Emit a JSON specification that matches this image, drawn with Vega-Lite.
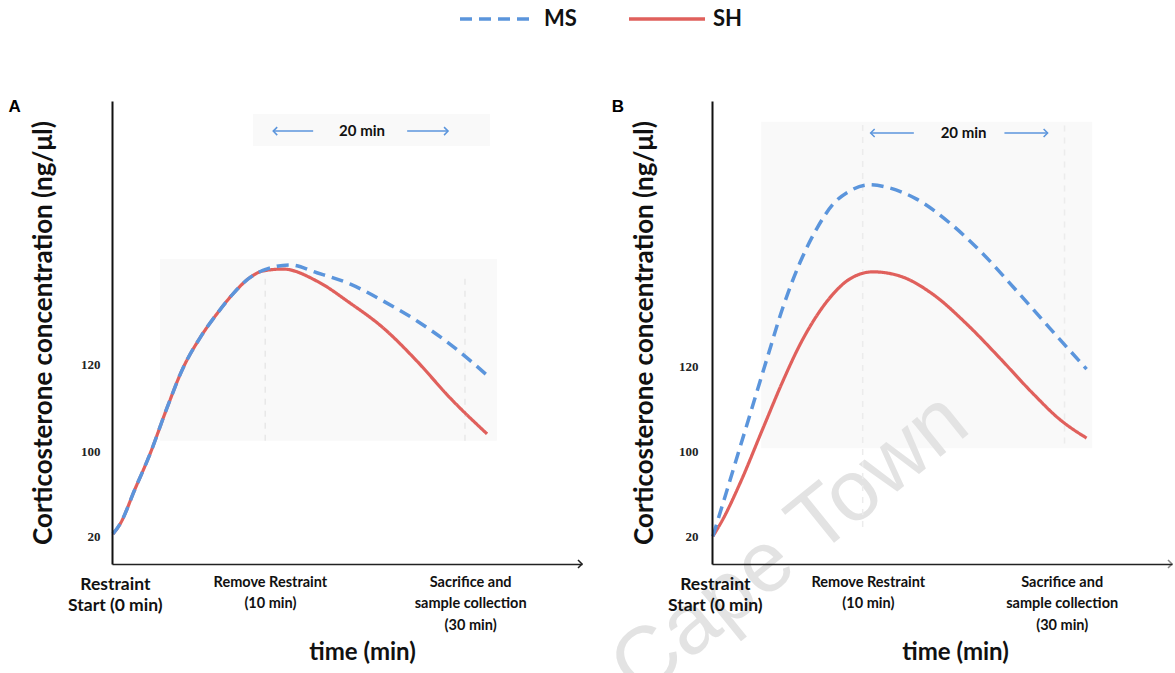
{
  "$schema": "https://vega.github.io/schema/vega-lite/v6.json",
  "padding": {"left": 8, "top": 8, "right": 0, "bottom": 0},
  "background": "white",
  "config": {
    "view": {"stroke": null},
    "font": "Lato",
    "axis": {"grid": false, "ticks": false, "zindex": 1}
  },
  "datasets": {
    "one": [{}],
    "curves": [
      {"panel": "A", "series": "SH", "t": 0.2, "v": 6.5},
      {"panel": "A", "series": "SH", "t": 1.7, "v": 8.6},
      {"panel": "A", "series": "SH", "t": 4.9, "v": 16.2},
      {"panel": "A", "series": "SH", "t": 8.1, "v": 23.8},
      {"panel": "A", "series": "SH", "t": 11.7, "v": 33.7},
      {"panel": "A", "series": "SH", "t": 15.1, "v": 42.3},
      {"panel": "A", "series": "SH", "t": 18.7, "v": 48.8},
      {"panel": "A", "series": "SH", "t": 22.3, "v": 54.0},
      {"panel": "A", "series": "SH", "t": 25.7, "v": 58.3},
      {"panel": "A", "series": "SH", "t": 29.4, "v": 61.9},
      {"panel": "A", "series": "SH", "t": 32.1, "v": 63.3},
      {"panel": "A", "series": "SH", "t": 36.4, "v": 63.7},
      {"panel": "A", "series": "SH", "t": 43.6, "v": 61.1},
      {"panel": "A", "series": "SH", "t": 50.6, "v": 56.4},
      {"panel": "A", "series": "SH", "t": 57.7, "v": 51.0},
      {"panel": "A", "series": "SH", "t": 64.9, "v": 43.8},
      {"panel": "A", "series": "SH", "t": 71.9, "v": 35.9},
      {"panel": "A", "series": "SH", "t": 79.8, "v": 28.1},
      {"panel": "A", "series": "MS", "t": 0.2, "v": 6.5},
      {"panel": "A", "series": "MS", "t": 1.7, "v": 8.6},
      {"panel": "A", "series": "MS", "t": 4.9, "v": 16.2},
      {"panel": "A", "series": "MS", "t": 8.1, "v": 23.8},
      {"panel": "A", "series": "MS", "t": 11.7, "v": 33.7},
      {"panel": "A", "series": "MS", "t": 15.1, "v": 42.3},
      {"panel": "A", "series": "MS", "t": 18.7, "v": 48.8},
      {"panel": "A", "series": "MS", "t": 22.3, "v": 54.0},
      {"panel": "A", "series": "MS", "t": 25.7, "v": 58.3},
      {"panel": "A", "series": "MS", "t": 29.4, "v": 61.9},
      {"panel": "A", "series": "MS", "t": 32.1, "v": 63.4},
      {"panel": "A", "series": "MS", "t": 37.9, "v": 64.6},
      {"panel": "A", "series": "MS", "t": 43.6, "v": 62.9},
      {"panel": "A", "series": "MS", "t": 50.6, "v": 60.5},
      {"panel": "A", "series": "MS", "t": 57.7, "v": 56.8},
      {"panel": "A", "series": "MS", "t": 64.9, "v": 52.5},
      {"panel": "A", "series": "MS", "t": 71.9, "v": 47.5},
      {"panel": "A", "series": "MS", "t": 80.0, "v": 40.6},
      {"panel": "B", "series": "SH", "t": 0.2, "v": 6.0},
      {"panel": "B", "series": "SH", "t": 2.5, "v": 10.0},
      {"panel": "B", "series": "SH", "t": 6.0, "v": 17.5},
      {"panel": "B", "series": "SH", "t": 10.9, "v": 29.4},
      {"panel": "B", "series": "SH", "t": 15.1, "v": 39.5},
      {"panel": "B", "series": "SH", "t": 18.7, "v": 47.3},
      {"panel": "B", "series": "SH", "t": 22.3, "v": 53.6},
      {"panel": "B", "series": "SH", "t": 25.7, "v": 58.2},
      {"panel": "B", "series": "SH", "t": 29.4, "v": 61.6},
      {"panel": "B", "series": "SH", "t": 34.3, "v": 63.1},
      {"panel": "B", "series": "SH", "t": 40.0, "v": 62.2},
      {"panel": "B", "series": "SH", "t": 47.0, "v": 58.3},
      {"panel": "B", "series": "SH", "t": 54.3, "v": 51.8},
      {"panel": "B", "series": "SH", "t": 61.3, "v": 44.5},
      {"panel": "B", "series": "SH", "t": 68.3, "v": 36.9},
      {"panel": "B", "series": "SH", "t": 74.0, "v": 31.3},
      {"panel": "B", "series": "SH", "t": 79.8, "v": 27.2},
      {"panel": "B", "series": "MS", "t": 0.2, "v": 6.0},
      {"panel": "B", "series": "MS", "t": 4.5, "v": 20.3},
      {"panel": "B", "series": "MS", "t": 8.1, "v": 32.3},
      {"panel": "B", "series": "MS", "t": 11.7, "v": 44.3},
      {"panel": "B", "series": "MS", "t": 15.1, "v": 55.4},
      {"panel": "B", "series": "MS", "t": 18.7, "v": 65.0},
      {"panel": "B", "series": "MS", "t": 22.3, "v": 72.4},
      {"panel": "B", "series": "MS", "t": 25.7, "v": 77.6},
      {"panel": "B", "series": "MS", "t": 29.4, "v": 80.6},
      {"panel": "B", "series": "MS", "t": 33.6, "v": 81.9},
      {"panel": "B", "series": "MS", "t": 37.9, "v": 81.2},
      {"panel": "B", "series": "MS", "t": 43.6, "v": 78.8},
      {"panel": "B", "series": "MS", "t": 50.6, "v": 73.7},
      {"panel": "B", "series": "MS", "t": 57.7, "v": 67.0},
      {"panel": "B", "series": "MS", "t": 64.9, "v": 59.0},
      {"panel": "B", "series": "MS", "t": 71.9, "v": 51.0},
      {"panel": "B", "series": "MS", "t": 79.8, "v": 42.1}
    ]
  },
  "spacing": 10,
  "hconcat": [
    {
      "width": 470,
      "height": 463,
      "title": {"text": "A", "anchor": "start", "frame": "bounds", "dx": -22, "offset": -15, "fontSize": 17, "font": "Liberation Sans", "fontWeight": "bold"},
      "layer": [
        {
          "data": {"name": "one"},
          "mark": {"type": "rect", "color": "#f9f9f9"},
          "encoding": {"x": {"datum": 10.2, "type": "quantitative"}, "x2": {"datum": 81.9}, "y": {"datum": 26.6, "type": "quantitative"}, "y2": {"datum": 65.9}}
        },
        {
          "data": {"name": "one"},
          "mark": {"type": "rect", "color": "#f9f9f9"},
          "encoding": {"x": {"datum": 30, "type": "quantitative"}, "x2": {"datum": 80.4}, "y": {"datum": 90.3, "type": "quantitative"}, "y2": {"datum": 97.2}}
        },
        {
          "data": {"name": "one"},
          "mark": {"type": "rule", "color": "#e8e8e8", "strokeDash": [6, 6], "strokeWidth": 1.5},
          "encoding": {"x": {"datum": 32.6, "type": "quantitative"}, "y": {"datum": 26.6, "type": "quantitative"}, "y2": {"datum": 64}}
        },
        {
          "data": {"name": "one"},
          "mark": {"type": "rule", "color": "#e8e8e8", "strokeDash": [6, 6], "strokeWidth": 1.5},
          "encoding": {"x": {"datum": 75.1, "type": "quantitative"}, "y": {"datum": 26.6, "type": "quantitative"}, "y2": {"datum": 62}}
        },
        {
          "data": {"name": "curves"},
          "transform": [{"filter": "datum.panel == 'A' && datum.series == 'SH'"}],
          "mark": {"type": "line", "interpolate": "monotone", "strokeWidth": 3.2},
          "encoding": {
            "x": {"field": "t", "type": "quantitative", "scale": {"domain": [0, 100], "nice": false},
              "axis": {"title": "time (min)", "zindex": 1, "values": [0.6, 33.6, 76.2], "labelExpr": "datum.value < 5 ? ['Restraint', 'Start (0 min)'] : datum.value < 50 ? ['Remove Restraint', '(10 min)'] : ['Sacrifice and', 'sample collection', '(30 min)']",
                "labelFontSize": {"condition": {"test": "datum.value < 5", "value": 17.5}, "value": 14.5},
                "labelFontWeight": "bold",
                "labelLineHeight": 21.5, "labelPadding": 11, "labelFlush": false, "labelOverlap": false, "labelColor": "#111", "labelFont": "Lato",
                "domainColor": "#222", "domainWidth": 1.5, "titleFontSize": 24, "titleFontWeight": "bold", "titleColor": "#111", "titlePadding": 9, "titleX": 250}},
            "y": {"field": "v", "type": "quantitative", "scale": {"domain": [0, 100], "nice": false},
              "axis": {"title": "Corticosterone concentration (ng/μl)", "zindex": 1, "values": [6, 24.4, 43], "labelExpr": "datum.value < 10 ? '20' : datum.value < 30 ? '100' : '120'",
                "labelFont": "Liberation Serif", "labelFontSize": 13, "labelFontWeight": "bold", "labelColor": "#222", "labelPadding": 12,
                "domainColor": "#111", "domainWidth": 2, "titleFontSize": 26, "titleFontWeight": "bold", "titleColor": "#111", "titlePadding": 24}},
            "color": {"field": "series", "type": "nominal", "scale": {"domain": ["MS", "SH"], "range": ["#5b95dc", "#e0605c"]},
              "legend": {"title": null, "orient": "none", "legendX": 341, "legendY": -93, "direction": "horizontal", "symbolType": "M-9.5,0H9.5", "symbolSize": 64, "symbolOffset": 34, "symbolStrokeWidth": 3.5, "labelFontSize": 22, "labelFontWeight": "bold", "labelFont": "Lato", "labelColor": "#111", "labelOffset": 35, "columnPadding": 45}},
            "strokeDash": {"field": "series", "type": "nominal", "scale": {"domain": ["MS", "SH"], "range": [[12, 7], [1, 0]]},
              "legend": {"title": null, "orient": "none", "legendX": 341, "legendY": -93, "direction": "horizontal", "symbolType": "M-9.5,0H9.5", "symbolSize": 64, "symbolOffset": 34, "symbolStrokeWidth": 3.5, "labelFontSize": 22, "labelFontWeight": "bold", "labelFont": "Lato", "labelColor": "#111", "labelOffset": 35, "columnPadding": 45}}
          }
        },
        {
          "data": {"name": "curves"},
          "transform": [{"filter": "datum.panel == 'A' && datum.series == 'MS'"}],
          "mark": {"type": "line", "interpolate": "monotone", "strokeWidth": 3.5},
          "encoding": {
            "x": {"field": "t", "type": "quantitative"},
            "y": {"field": "v", "type": "quantitative"},
            "color": {"field": "series", "type": "nominal"},
            "strokeDash": {"field": "series", "type": "nominal"}
          }
        },
        {
          "data": {"name": "one"},
          "mark": {"type": "point", "shape": "M-1,-1L0,0L-1,1", "filled": false, "stroke": "#222", "strokeWidth": 1.5, "size": 64, "opacity": 1},
          "encoding": {"x": {"datum": 100, "type": "quantitative"}, "y": {"datum": 0, "type": "quantitative"}}
        },
        {
          "data": {"name": "one"},
          "mark": {"type": "rule", "color": "#5b95dc", "strokeWidth": 1.5},
          "encoding": {"x": {"datum": 34.3, "type": "quantitative"}, "x2": {"datum": 42.8}, "y": {"datum": 93.5, "type": "quantitative"}}
        },
        {
          "data": {"name": "one"},
          "mark": {"type": "rule", "color": "#5b95dc", "strokeWidth": 1.5},
          "encoding": {"x": {"datum": 62.8, "type": "quantitative"}, "x2": {"datum": 71.5}, "y": {"datum": 93.5, "type": "quantitative"}}
        },
        {
          "data": {"name": "one"},
          "mark": {"type": "point", "shape": "M1,-1L0,0L1,1", "filled": false, "stroke": "#5b95dc", "strokeWidth": 1.5, "size": 64, "opacity": 1},
          "encoding": {"x": {"datum": 34.3, "type": "quantitative"}, "y": {"datum": 93.5, "type": "quantitative"}}
        },
        {
          "data": {"name": "one"},
          "mark": {"type": "point", "shape": "M-1,-1L0,0L-1,1", "filled": false, "stroke": "#5b95dc", "strokeWidth": 1.5, "size": 64, "opacity": 1},
          "encoding": {"x": {"datum": 71.5, "type": "quantitative"}, "y": {"datum": 93.5, "type": "quantitative"}}
        },
        {
          "data": {"name": "one"},
          "mark": {"type": "text", "fontSize": 15, "fontWeight": "bold", "font": "Lato", "color": "#111"},
          "encoding": {"x": {"datum": 53.2, "type": "quantitative"}, "y": {"datum": 93.5, "type": "quantitative"}, "text": {"value": "20 min"}}
        }
      ]
    },
    {
      "width": 460,
      "height": 463,
      "title": {"text": "B", "anchor": "start", "frame": "bounds", "dx": 16, "offset": -15, "fontSize": 17, "font": "Liberation Sans", "fontWeight": "bold"},
      "layer": [
        {
          "data": {"name": "one"},
          "mark": {"type": "rect", "color": "#f9f9f9"},
          "encoding": {"x": {"datum": 10.5, "type": "quantitative"}, "x2": {"datum": 81}, "y": {"datum": 25, "type": "quantitative"}, "y2": {"datum": 95.5}}
        },
        {
          "data": {"name": "one"},
          "mark": {"type": "text", "fontSize": 86, "font": "Liberation Sans", "color": "#e3e3e3", "angle": -39, "align": "center", "baseline": "middle"},
          "encoding": {"x": {"datum": 16.6, "type": "quantitative"}, "y": {"datum": 4.1, "type": "quantitative"}, "text": {"value": "Cape Town"}}
        },
        {
          "data": {"name": "one"},
          "mark": {"type": "rule", "color": "#ececec", "strokeDash": [6, 6], "strokeWidth": 1.5},
          "encoding": {"x": {"datum": 32.1, "type": "quantitative"}, "y": {"datum": 8, "type": "quantitative"}, "y2": {"datum": 95}}
        },
        {
          "data": {"name": "one"},
          "mark": {"type": "rule", "color": "#ececec", "strokeDash": [6, 6], "strokeWidth": 1.5},
          "encoding": {"x": {"datum": 75.1, "type": "quantitative"}, "y": {"datum": 26, "type": "quantitative"}, "y2": {"datum": 95}}
        },
        {
          "data": {"name": "curves"},
          "transform": [{"filter": "datum.panel == 'B' && datum.series == 'SH'"}],
          "mark": {"type": "line", "interpolate": "monotone", "strokeWidth": 3.2},
          "encoding": {
            "x": {"field": "t", "type": "quantitative", "scale": {"domain": [0, 98], "nice": false},
              "axis": {"title": "time (min)", "zindex": 1, "values": [0.6, 33.2, 74.5], "labelExpr": "datum.value < 5 ? ['Restraint', 'Start (0 min)'] : datum.value < 50 ? ['Remove Restraint', '(10 min)'] : ['Sacrifice and', 'sample collection', '(30 min)']",
                "labelFontSize": {"condition": {"test": "datum.value < 5", "value": 17.5}, "value": 14.5},
                "labelFontWeight": "bold",
                "labelLineHeight": 21.5, "labelPadding": 11, "labelFlush": false, "labelOverlap": false, "labelColor": "#111", "labelFont": "Lato",
                "domainColor": "#222", "domainWidth": 1.5, "titleFontSize": 24, "titleFontWeight": "bold", "titleColor": "#111", "titlePadding": 9, "titleX": 243}},
            "y": {"field": "v", "type": "quantitative", "scale": {"domain": [0, 100], "nice": false},
              "axis": {"title": "Corticosterone concentration (ng/μl)", "zindex": 1, "values": [6, 24.4, 42.6], "labelExpr": "datum.value < 10 ? '20' : datum.value < 30 ? '100' : '120'",
                "labelFont": "Liberation Serif", "labelFontSize": 13, "labelFontWeight": "bold", "labelColor": "#222", "labelPadding": 14,
                "domainColor": "#111", "domainWidth": 2, "titleFontSize": 26, "titleFontWeight": "bold", "titleColor": "#111", "titlePadding": 21}},
            "color": {"field": "series", "type": "nominal"},
            "strokeDash": {"field": "series", "type": "nominal"}
          }
        },
        {
          "data": {"name": "curves"},
          "transform": [{"filter": "datum.panel == 'B' && datum.series == 'MS'"}],
          "mark": {"type": "line", "interpolate": "monotone", "strokeWidth": 3.5},
          "encoding": {
            "x": {"field": "t", "type": "quantitative"},
            "y": {"field": "v", "type": "quantitative"},
            "color": {"field": "series", "type": "nominal"},
            "strokeDash": {"field": "series", "type": "nominal"}
          }
        },
        {
          "data": {"name": "one"},
          "mark": {"type": "point", "shape": "M-1,-1L0,0L-1,1", "filled": false, "stroke": "#888", "strokeWidth": 1.5, "size": 64, "opacity": 1},
          "encoding": {"x": {"datum": 98, "type": "quantitative"}, "y": {"datum": 0, "type": "quantitative"}}
        },
        {
          "data": {"name": "one"},
          "mark": {"type": "rule", "color": "#5b95dc", "strokeWidth": 1.5},
          "encoding": {"x": {"datum": 33.8, "type": "quantitative"}, "x2": {"datum": 43}, "y": {"datum": 93.1, "type": "quantitative"}}
        },
        {
          "data": {"name": "one"},
          "mark": {"type": "rule", "color": "#5b95dc", "strokeWidth": 1.5},
          "encoding": {"x": {"datum": 62.3, "type": "quantitative"}, "x2": {"datum": 71.5}, "y": {"datum": 93.1, "type": "quantitative"}}
        },
        {
          "data": {"name": "one"},
          "mark": {"type": "point", "shape": "M1,-1L0,0L1,1", "filled": false, "stroke": "#5b95dc", "strokeWidth": 1.5, "size": 64, "opacity": 1},
          "encoding": {"x": {"datum": 33.8, "type": "quantitative"}, "y": {"datum": 93.1, "type": "quantitative"}}
        },
        {
          "data": {"name": "one"},
          "mark": {"type": "point", "shape": "M-1,-1L0,0L-1,1", "filled": false, "stroke": "#5b95dc", "strokeWidth": 1.5, "size": 64, "opacity": 1},
          "encoding": {"x": {"datum": 71.5, "type": "quantitative"}, "y": {"datum": 93.1, "type": "quantitative"}}
        },
        {
          "data": {"name": "one"},
          "mark": {"type": "text", "fontSize": 15, "fontWeight": "bold", "font": "Lato", "color": "#111"},
          "encoding": {"x": {"datum": 53.6, "type": "quantitative"}, "y": {"datum": 93.1, "type": "quantitative"}, "text": {"value": "20 min"}}
        }
      ]
    }
  ]
}
